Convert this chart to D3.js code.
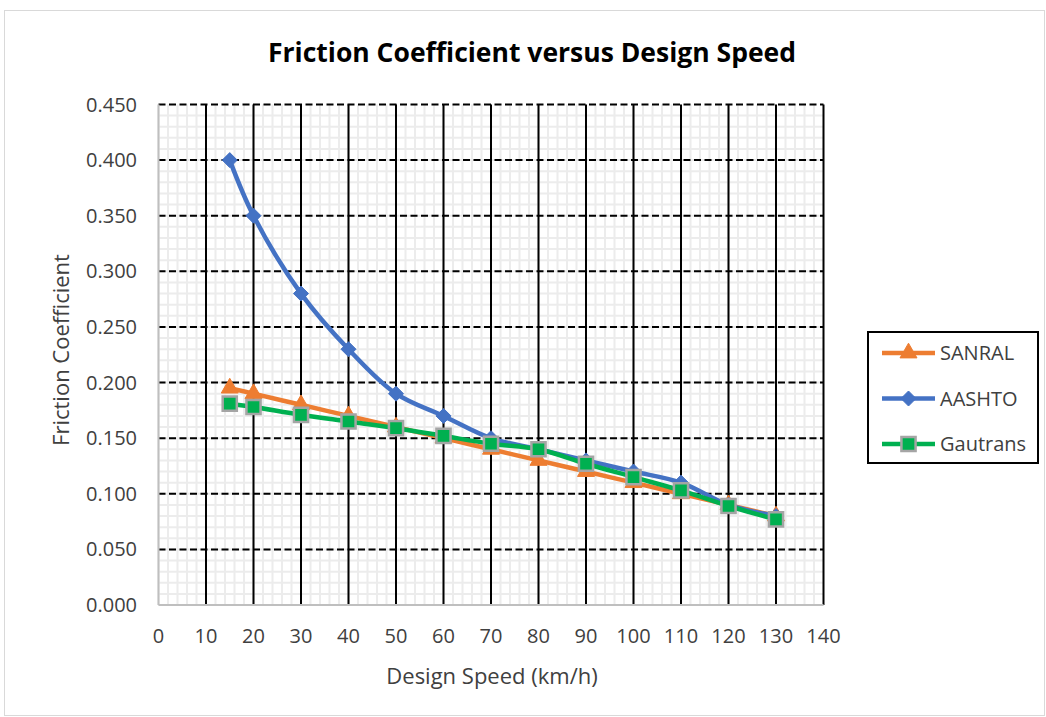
<!DOCTYPE html>
<html lang="en">
<head>
    <meta charset="UTF-8">
    <title>Friction Coefficient versus Design Speed</title>
    <script src="https://d3js.org/d3.v7.min.js"></script>
    <style>
        body {
            margin: 0;
            background: #fff;
            font-family: 'Open Sans', 'Liberation Sans', sans-serif;
        }
        .tick-label {
            font-size: 20px;
            fill: #404040;
        }
        .axis-title {
            font-size: 22px;
            fill: #404040;
        }
        .title {
            font-size: 26.5px;
            font-weight: bold;
            fill: #000;
        }
        .legend-text {
            font-size: 20px;
            fill: #404040;
        }
    </style>
</head>
<body>
    <svg width="1046" height="717"></svg>

    <script>
        // dados
        const speeds = [15, 20, 30, 40, 50, 60, 70, 80, 90, 100, 110, 120, 130];
        const sanral = [0.195, 0.19, 0.18, 0.17, 0.16, 0.15, 0.14, 0.13, 0.12, 0.11, 0.10, 0.09, 0.08];
        const aashto = [0.40, 0.35, 0.28, 0.23, 0.19, 0.17, 0.15, 0.14, 0.13, 0.12, 0.11, 0.09, 0.08];
        const gautrans = [0.181, 0.178, 0.171, 0.165, 0.159, 0.152, 0.145, 0.14, 0.127, 0.115, 0.103, 0.089, 0.077];

        const xTicks = d3.range(0, 141, 10);
        const yTicks = d3.range(0, 0.4501, 0.05);

        const series = [
            { name: "SANRAL", values: sanral, color: "#ED7D31", marker: "triangle" },
            { name: "AASHTO", values: aashto, color: "#4472C4", marker: "diamond" },
            { name: "Gautrans", values: gautrans, color: "#00B050", marker: "square" }
        ];

        const svg = d3.select("svg");

        // borda externa do grafico
        svg.append("rect")
            .attr("x", 4.5).attr("y", 10.5)
            .attr("width", 1040).attr("height", 705)
            .attr("fill", "#fff")
            .attr("stroke", "#d9d9d9")
            .attr("stroke-width", 1);

        const pLeft = 158.5, pRight = 823.5, pTop = 104.5, pBottom = 605;

        const x = d3.scaleLinear().domain([0, 140]).range([pLeft, pRight]);
        const y = d3.scaleLinear().domain([0, 0.45]).range([pBottom, pTop]);

        const grid = svg.append("g");

        // grade menor
        grid.selectAll(".minor-x")
            .data(d3.range(0, 140, 2))
            .enter()
            .append("line")
            .attr("x1", d => x(d)).attr("x2", d => x(d))
            .attr("y1", pTop).attr("y2", pBottom)
            .attr("stroke", "#ececec")
            .attr("stroke-width", 2);

        grid.selectAll(".minor-y")
            .data(d3.range(0, 0.45, 0.01))
            .enter()
            .append("line")
            .attr("x1", pLeft).attr("x2", pRight)
            .attr("y1", d => y(d)).attr("y2", d => y(d))
            .attr("stroke", "#ececec")
            .attr("stroke-width", 2);

        // grade maior vertical (solida)
        grid.selectAll(".major-x")
            .data(xTicks.filter(d => d > 0))
            .enter()
            .append("line")
            .attr("x1", d => x(d)).attr("x2", d => x(d))
            .attr("y1", pTop).attr("y2", pBottom)
            .attr("stroke", "#000")
            .attr("stroke-width", 2);

        // grade maior horizontal (tracejada)
        grid.selectAll(".major-y")
            .data(yTicks.filter(d => d > 0.001))
            .enter()
            .append("line")
            .attr("x1", pLeft).attr("x2", pRight)
            .attr("y1", d => y(d)).attr("y2", d => y(d))
            .attr("stroke", "#000")
            .attr("stroke-width", 2)
            .attr("stroke-dasharray", "7,3.5");

        // eixos
        grid.append("line")
            .attr("x1", pLeft).attr("x2", pLeft)
            .attr("y1", pTop).attr("y2", pBottom)
            .attr("stroke", "#bfbfbf").attr("stroke-width", 2);
        grid.append("line")
            .attr("x1", pLeft).attr("x2", pRight)
            .attr("y1", pBottom).attr("y2", pBottom)
            .attr("stroke", "#bfbfbf").attr("stroke-width", 2);

        // rotulos dos eixos
        svg.selectAll(".xlab")
            .data(xTicks)
            .enter()
            .append("text")
            .attr("class", "tick-label")
            .attr("x", d => x(d))
            .attr("y", 643)
            .attr("text-anchor", "middle")
            .text(d => d);

        svg.selectAll(".ylab")
            .data(yTicks)
            .enter()
            .append("text")
            .attr("class", "tick-label")
            .attr("x", 137)
            .attr("y", d => y(d) + 7)
            .attr("text-anchor", "end")
            .text(d => d3.format(".3f")(d));

        svg.append("text")
            .attr("class", "title")
            .attr("x", 532)
            .attr("y", 62)
            .attr("text-anchor", "middle")
            .text("Friction Coefficient versus Design Speed");

        svg.append("text")
            .attr("class", "axis-title")
            .attr("x", 492)
            .attr("y", 684)
            .attr("text-anchor", "middle")
            .text("Design Speed (km/h)");

        svg.append("text")
            .attr("class", "axis-title")
            .attr("transform", "translate(69,350) rotate(-90)")
            .attr("text-anchor", "middle")
            .text("Friction Coefficient");

        // series
        const line = d3.line()
            .x((d, i) => x(speeds[i]))
            .y(d => y(d))
            .curve(d3.curveCatmullRom.alpha(0.5));

        // losango quadrado como no Excel
        const excelDiamond = {
            draw(context, size) {
                const r = Math.sqrt(size) / 2;
                context.moveTo(0, -r);
                context.lineTo(r, 0);
                context.lineTo(0, r);
                context.lineTo(-r, 0);
                context.closePath();
            }
        };

        const symbolFor = {
            triangle: d3.symbol().type(d3.symbolTriangle).size(125),
            diamond: d3.symbol().type(excelDiamond).size(225),
            square: d3.symbol().type(d3.symbolSquare).size(200)
        };

        const plot = svg.append("g");

        series.forEach(s => {
            const g = plot.append("g");
            g.append("path")
                .datum(s.values)
                .attr("fill", "none")
                .attr("stroke", s.color)
                .attr("stroke-width", 4.5)
                .attr("d", line);

            g.selectAll(".pt")
                .data(s.values)
                .enter()
                .append("path")
                .attr("transform", (d, i) => `translate(${x(speeds[i])},${y(d)})`)
                .attr("d", symbolFor[s.marker])
                .attr("fill", s.color)
                .attr("stroke", s.marker === "square" ? "#a5a5a5" : s.color)
                .attr("stroke-width", s.marker === "square" ? 2.5 : 1);
        });

        // legenda
        const legend = svg.append("g");
        legend.append("rect")
            .attr("x", 868).attr("y", 332)
            .attr("width", 170).attr("height", 131)
            .attr("fill", "#fff")
            .attr("stroke", "#000")
            .attr("stroke-width", 2);

        series.forEach((s, i) => {
            const ly = 353 + i * 45.5;
            legend.append("line")
                .attr("x1", 882).attr("x2", 935)
                .attr("y1", ly).attr("y2", ly)
                .attr("stroke", s.color)
                .attr("stroke-width", 4.5);
            legend.append("path")
                .attr("transform", `translate(908.5,${ly})`)
                .attr("d", symbolFor[s.marker])
                .attr("fill", s.color)
                .attr("stroke", s.marker === "square" ? "#a5a5a5" : s.color)
                .attr("stroke-width", s.marker === "square" ? 2.5 : 1);
            legend.append("text")
                .attr("class", "legend-text")
                .attr("x", 940)
                .attr("y", ly + 7)
                .text(s.name);
        });
    </script>
</body>
</html>
